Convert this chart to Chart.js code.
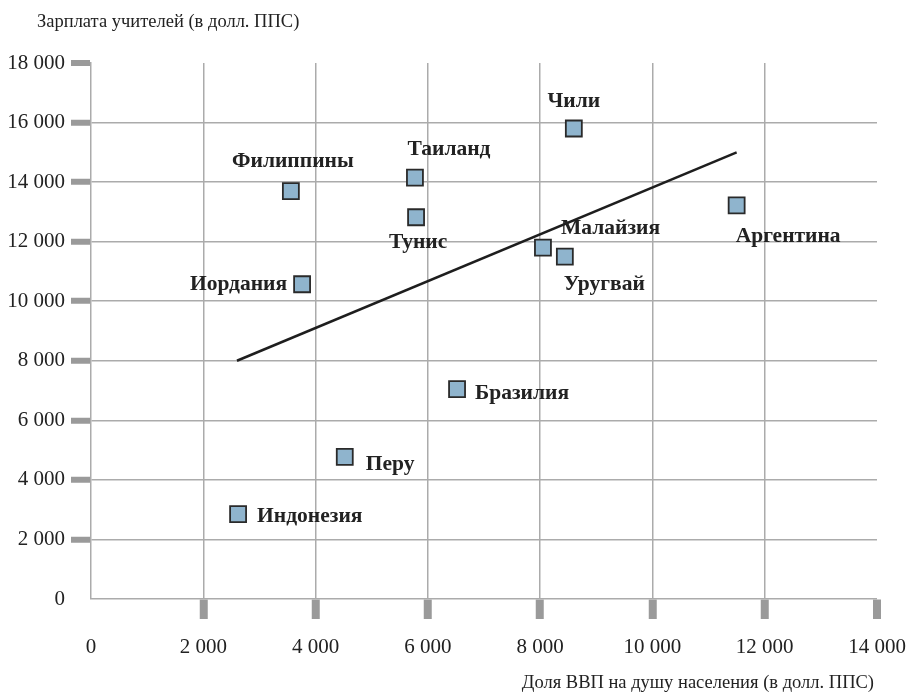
<!DOCTYPE html>
<html>
<head>
<meta charset="utf-8">
<script src="https://cdn.jsdelivr.net/npm/chart.js@4"></script>
<style>
html,body{margin:0;padding:0;background:#fff;}
#wrap{width:911px;height:695px;position:relative;}
</style>
</head>
<body>
<div id="wrap"><canvas id="c" width="911" height="695"></canvas></div>
<script>
// ---- data ----
const countries = ['Чили','Таиланд','Филиппины','Тунис','Иордания','Малайзия','Уругвай','Аргентина','Бразилия','Перу','Индонезия'];
const gdpPerCapita = [8600, 5770, 3560, 5790, 3760, 8050, 8440, 11500, 6520, 4520, 2620];
const teacherSalary = [15800, 14150, 13700, 12820, 10570, 11800, 11500, 13220, 7050, 4770, 2850];
const trendX = [2600, 11500];
const trendY = [8000, 15000];
const xTicks = [0, 2000, 4000, 6000, 8000, 10000, 12000, 14000];
const yTicks = [0, 2000, 4000, 6000, 8000, 10000, 12000, 14000, 16000, 18000];
const yTitle = 'Зарплата учителей (в долл. ППС)';
const xTitle = 'Доля ВВП на душу населения (в долл. ППС)';

// ---- label placement (layout, px offsets from the point) ----
const labelPlacement = [
  {dx:0, dy:-27, align:'center'},
  {dx:34, dy:-28, align:'center'},
  {dx:2, dy:-30, align:'center'},
  {dx:2, dy:25, align:'center'},
  {dx:-15, dy:0, align:'right'},
  {dx:18, dy:-19, align:'left'},
  {dx:-1, dy:28, align:'left'},
  {dx:-1, dy:31, align:'left'},
  {dx:18, dy:4, align:'left'},
  {dx:21, dy:7, align:'left'},
  {dx:19, dy:2, align:'left'}
];

const fmt = v => String(v).replace(/\B(?=(\d{3})+(?!\d))/g, ' ');
const SERIF = '"Liberation Serif","DejaVu Serif",serif';

const labelsPlugin = {
  id: 'pointLabels',
  afterDatasetsDraw(chart) {
    const meta = chart.getDatasetMeta(1);
    const ctx = chart.ctx;
    ctx.save();
    ctx.font = 'bold 21.5px ' + SERIF;
    ctx.fillStyle = '#222';
    ctx.textBaseline = 'middle';
    meta.data.forEach((el, i) => {
      const p = labelPlacement[i];
      ctx.textAlign = p.align;
      ctx.fillText(countries[i], el.x + p.dx, el.y + p.dy);
    });
    ctx.restore();
  }
};

const titlesPlugin = {
  id: 'axisTitles',
  afterDraw(chart) {
    const ctx = chart.ctx;
    ctx.save();
    ctx.font = '18.5px ' + SERIF;
    ctx.fillStyle = '#222';
    ctx.textBaseline = 'middle';
    ctx.textAlign = 'left';
    ctx.fillText(yTitle, 37, 22);
    ctx.textAlign = 'right';
    ctx.fillText(xTitle, chart.chartArea.right - 3, 683);
    ctx.restore();
  }
};

const gridCommon = (tw) => ({
  color: '#ababab',
  lineWidth: c => {
    if (c.index === 0) return 0;
    if (c.index === c.scale.ticks.length - 1) return 0;
    return 1.5;
  },
  tickColor: '#9a9a9a',
  tickWidth: c => (c.index === 0 ? 0 : tw),
  tickLength: 20,
  drawTicks: true
});

new Chart(document.getElementById('c'), {
  type: 'scatter',
  data: {
    datasets: [
      {
        type: 'line',
        data: trendX.map((x, i) => ({x, y: trendY[i]})),
        borderColor: '#1e1e1e',
        borderWidth: 2.5,
        pointRadius: 0,
        fill: false,
        order: 2
      },
      {
        data: gdpPerCapita.map((x, i) => ({x, y: teacherSalary[i]})),
        pointStyle: 'rect',
        pointRadius: 11.3,
        pointHoverRadius: 11.3,
        backgroundColor: '#8fb4cd',
        borderColor: '#2a2a2a',
        borderWidth: 1.8,
        order: 1
      }
    ]
  },
  options: {
    responsive: false,
    animation: false,
    devicePixelRatio: 1,
    layout: {padding: {left: 0, right: 34, top: 63, bottom: 0}},
    plugins: {legend: {display: false}, tooltip: {enabled: false}},
    scales: {
      x: {
        type: 'linear',
        min: 0, max: 14000,
        afterBuildTicks: s => { s.ticks = xTicks.map(v => ({value: v})); },
        afterFit: s => { s.height = 96; s.paddingLeft = 0; s.paddingRight = 0; },
        grid: gridCommon(8),
        border: {display: true, color: '#ababab', width: 1.5},
        ticks: {
          callback: v => fmt(v),
          font: {family: SERIF, size: 21},
          color: '#222',
          padding: 16,
          maxRotation: 0,
          autoSkip: false
        }
      },
      y: {
        type: 'linear',
        min: 0, max: 18000,
        afterBuildTicks: s => { s.ticks = yTicks.map(v => ({value: v})); },
        afterFit: s => { s.width = 91; s.paddingTop = 0; s.paddingBottom = 0; },
        grid: gridCommon(6),
        border: {display: true, color: '#ababab', width: 1.5},
        ticks: {
          callback: v => fmt(v),
          font: {family: SERIF, size: 21},
          color: '#222',
          padding: 6,
          autoSkip: false
        }
      }
    }
  },
  plugins: [labelsPlugin, titlesPlugin]
});
</script>
</body>
</html>
